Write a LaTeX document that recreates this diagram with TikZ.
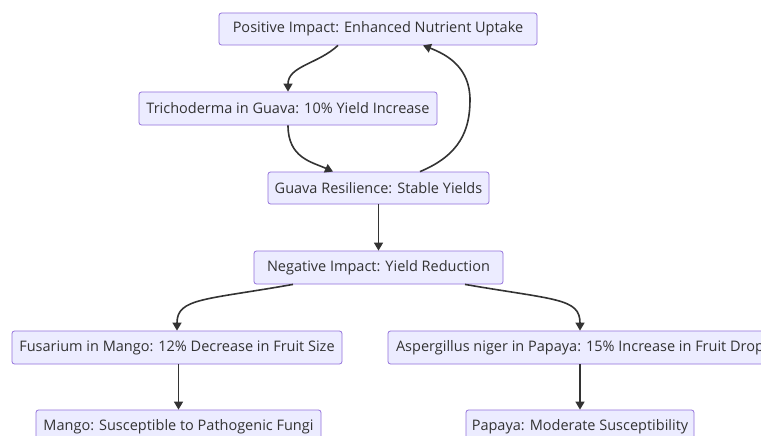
\documentclass[tikz,border=0pt]{standalone}
\usepackage{fontspec}
\setmainfont{Open Sans}
\usetikzlibrary{arrows.meta}
\definecolor{boxfill}{HTML}{ECECFF}
\definecolor{boxline}{HTML}{9370DB}
\definecolor{ink}{HTML}{333333}
\tikzset{
  box/.style={draw=boxline, fill=boxfill, line width=0.8pt, rounded corners=2.5pt,
    minimum height=33pt, inner sep=0pt, text=ink,
    font=\fontsize{14.5}{16}\selectfont},
  link/.style={draw=ink, line width=1.6pt, -{Triangle[length=8pt,width=9pt]}}
}
\begin{document}
\begin{tikzpicture}[x=1pt,y=-1pt]
\useasboundingbox (0,0) rectangle (761,436);
\clip (0,0) rectangle (761,436);
\fill[white] (0,0) rectangle (761,436);
\node[box, minimum width=318pt, minimum height=32pt] (pos) at (378,29) {Positive Impact: Enhanced Nutrient Uptake};
\node[box, minimum width=298pt] (tri) at (288,108.5) {Trichoderma in Guava: 10\% Yield Increase};
\node[box, minimum width=221pt, minimum height=32pt] (gua) at (378.5,188) {Guava Resilience: Stable Yields};
\node[box, minimum width=249pt] (neg) at (378.5,267.5) {Negative Impact: Yield Reduction};
\node[box, minimum width=330pt] (fus) at (177,347.5) {Fusarium in Mango: 12\% Decrease in Fruit Size};
\node[box, minimum width=384pt] (asp) at (580,347.5) {Aspergillus niger in Papaya: 15\% Increase in Fruit Drop};
\node[box, minimum width=285pt] (man) at (178.5,426.5) {Mango: Susceptible to Pathogenic Fungi};
\node[box, minimum width=228pt] (pap) at (580,426.5) {Papaya: Moderate Susceptibility};

\coordinate (p1) at (pos.south -| 338,0);
\draw[link] (p1) .. controls (318,64) and (288,66) .. (tri.north);
\coordinate (t1) at (tri.south);
\coordinate (g1) at (gua.north -| 333,0);
\draw[link] (t1) .. controls (288,158) and (312,162) .. (g1);
\coordinate (g2) at (gua.north -| 420,0);
\coordinate (p2) at (pos.south -| 423,0);
\draw[link] (g2) .. controls (460,155) and (470,130) .. (470,100) .. controls (470,68) and (448,55) .. (p2);
\draw[link] (gua.south) -- (neg.north);
\coordinate (n1) at (neg.south -| 293,0);
\draw[link] (n1) .. controls (205,300) and (177,298) .. (fus.north);
\coordinate (n2) at (neg.south -| 465,0);
\draw[link] (n2) .. controls (555,300) and (580,298) .. (asp.north);
\draw[link] (fus.south -| man.north) -- (man.north);
\draw[link] (asp.south) -- (pap.north);
\end{tikzpicture}
\end{document}
